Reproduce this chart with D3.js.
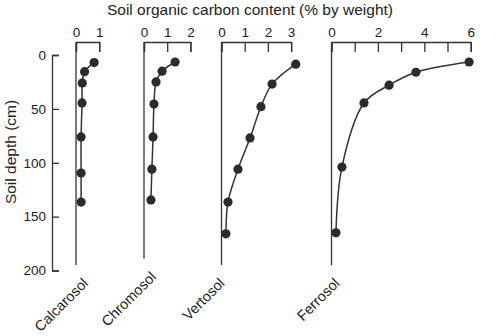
<!DOCTYPE html>
<html>
<head>
<meta charset="utf-8">
<script src="https://cdn.jsdelivr.net/npm/d3@7"></script>
<style>
  body { margin: 0; background: #fff; }
  text { font-family: "Liberation Sans", Arial, sans-serif; fill: #222; }
</style>
</head>
<body>
<div id="chart"></div>
<script>
// soil orders (one panel each)
const soils = ["Calcarosol", "Chromosol", "Vertosol", "Ferrosol"];

// depth (cm) of each sample, per soil
const calcarosolDepth = [7, 15.5, 26, 44.5, 76, 109.5, 136.5];
const chromosolDepth  = [6.5, 15, 25, 45.5, 76, 106, 134.5];
const vertosolDepth   = [8.5, 27, 48, 77, 106, 136.5, 166];
const ferrosolDepth   = [6.5, 16, 28, 44.5, 104, 165];

// organic carbon content (% by weight)
const calcarosolC = [0.78, 0.37, 0.27, 0.26, 0.22, 0.22, 0.22];
const chromosolC  = [1.34, 0.78, 0.52, 0.43, 0.39, 0.34, 0.30];
const vertosolC   = [3.2, 2.18, 1.7, 1.23, 0.71, 0.28, 0.19];
const ferrosolC   = [5.93, 3.64, 2.48, 1.4, 0.45, 0.19];

// x axis maximum and tick labels per panel
const xMax = [1, 2, 3, 6];
const xTickLabels = [[0, 1], [0, 1, 2], [0, 1, 2, 3], [0, 2, 4, 6]];
const depthTicks = [0, 50, 100, 150, 200];

const depths = [calcarosolDepth, chromosolDepth, vertosolDepth, ferrosolDepth];
const carbons = [calcarosolC, chromosolC, vertosolC, ferrosolC];

const width = 500, height = 336;
const ink = "#333";
const font = "Liberation Sans, Arial, sans-serif";

const svg = d3.select("#chart")
  .append("svg")
  .attr("width", width)
  .attr("height", height);

// depth scale shared by all panels
const y = d3.scaleLinear().domain([0, 200]).range([55, 270.5]);

svg.append("g")
  .attr("transform", "translate(52,0)")
  .call(d3.axisLeft(y).tickValues(depthTicks).tickSize(-7).tickPadding(6))
  .call(g => g.selectAll("path, line").attr("stroke", ink).attr("stroke-width", 1.3))
  .call(g => g.selectAll("text").attr("font-size", 13.5).attr("fill", "#222")
    .attr("font-family", font));

// panel layout
const panelX = [76, 144, 221.5, 331.5];
const panelBottom = [195, 189, 195, 195];
const labelDx = [13, 13, 4, 9];
const unit = 23.2;
const axisY = 42;

soils.forEach((name, i) => {
  const x = d3.scaleLinear().domain([0, xMax[i]]).range([panelX[i], panelX[i] + unit * xMax[i]]);
  const g = svg.append("g");

  // top axis
  const ticks = d3.range(0, xMax[i] + 1);
  g.append("g")
    .attr("transform", `translate(0,${axisY})`)
    .call(d3.axisTop(x).tickValues(ticks).tickSize(-10).tickPadding(5)
      .tickFormat(d => xTickLabels[i].includes(d) ? d : ""))
    .call(a => a.selectAll("path, line").attr("stroke", ink).attr("stroke-width", 1.3))
    .call(a => a.selectAll("text").attr("font-size", 13.5).attr("fill", "#222")
      .attr("font-family", font));

  // vertical baseline
  g.append("line")
    .attr("x1", x(0)).attr("x2", x(0))
    .attr("y1", axisY).attr("y2", y(panelBottom[i]))
    .attr("stroke", ink).attr("stroke-width", 1.3);

  const pts = depths[i].map((d, j) => ({depth: d, c: carbons[i][j]}));

  g.append("path")
    .datum(pts)
    .attr("fill", "none")
    .attr("stroke", ink)
    .attr("stroke-width", 1.5)
    .attr("d", d3.line()
      .curve(d3.curveCatmullRom)
      .x(d => x(d.c))
      .y(d => y(d.depth)));

  g.selectAll("circle")
    .data(pts)
    .join("circle")
    .attr("cx", d => x(d.c))
    .attr("cy", d => y(d.depth))
    .attr("r", 4.6)
    .attr("fill", "#2b2b2b");

  // rotated soil name
  const lx = x(0) + labelDx[i], ly = y(panelBottom[i]) + 19;
  g.append("text")
    .attr("transform", `translate(${lx},${ly}) rotate(-45)`)
    .attr("text-anchor", "end")
    .attr("font-size", 14.5)
    .text(name);
});

// axis titles
svg.append("text")
  .attr("x", 250)
  .attr("y", 15)
  .attr("text-anchor", "middle")
  .attr("font-size", 15.5)
  .text("Soil organic carbon content (% by weight)");

svg.append("text")
  .attr("transform", "translate(16,152) rotate(-90)")
  .attr("text-anchor", "middle")
  .attr("font-size", 15.5)
  .text("Soil depth (cm)");
</script>
</body>
</html>
